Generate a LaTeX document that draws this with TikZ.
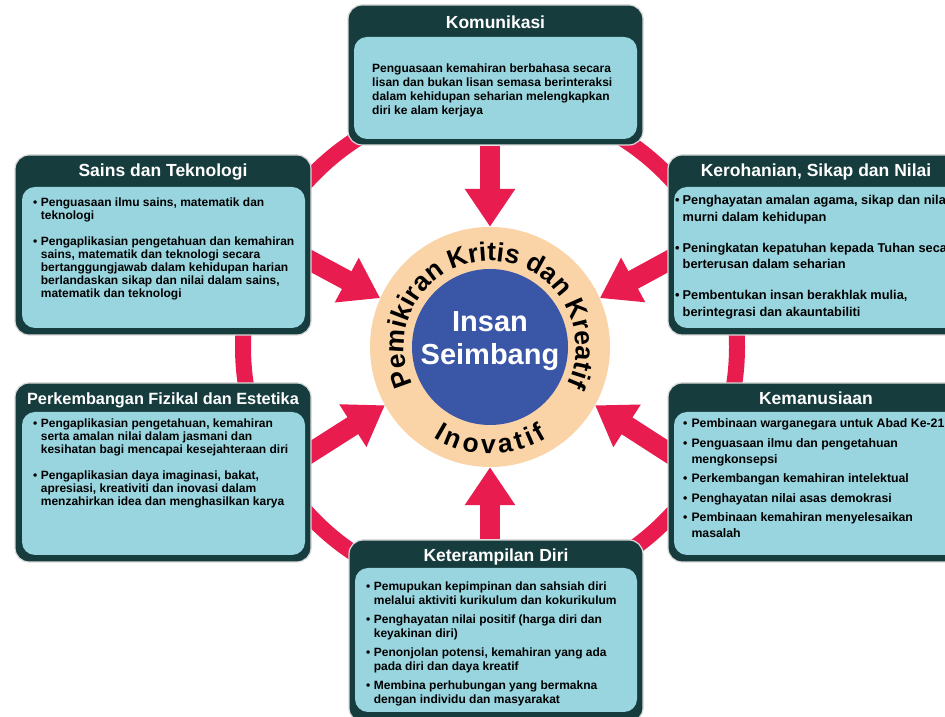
\documentclass[tikz,border=0pt]{standalone}
\usepackage{fontspec}
\setmainfont{Liberation Sans}
\usetikzlibrary{arrows.meta,decorations.text,backgrounds}

\definecolor{boxdark}{RGB}{22,60,62}
\definecolor{boxlight}{RGB}{152,213,223}
\definecolor{ringred}{RGB}{232,28,79}
\definecolor{peach}{RGB}{250,212,166}
\definecolor{coreblue}{RGB}{58,86,166}

\newcommand{\bul}{\textbullet}

\tikzset{
  outerbox/.style={fill=boxdark, draw=black!15, line width=1.2pt, rounded corners=14pt, inner sep=0pt},
  innerbox/.style={fill=boxlight, rounded corners=13pt, inner sep=0pt},
  boxtitle/.style={text=white, inner sep=0pt, anchor=base, font=\bfseries\fontsize{17.5}{20}\selectfont},
  boxtext/.style={inner sep=0pt, anchor=base west},
  toward/.style={draw=ringred, line width=20pt, -{Triangle[width=48pt,length=38pt]}},
}

\begin{document}
\begin{tikzpicture}[x=1pt,y=1pt]
  \useasboundingbox (0,0) rectangle (945,717);
  \clip (0,0) rectangle (945,717);

  % centre
  \node[circle, fill=peach, minimum size=240pt, inner sep=0pt] (disc) at (490,370) {};
  \node[circle, fill=coreblue, minimum size=156pt, inner sep=0pt] (insan) at (disc.center) {};
  \node[text=white, align=center, font=\bfseries\fontsize{29}{33}\selectfont] (insanText)
    at ([yshift=6pt]insan.center) {Insan\\Seimbang};
  \path[decorate, decoration={text along path, text align=center,
      text={|\bfseries\fontsize{26.5}{26.5}\selectfont|Pemikiran Kritis dan Kreatif}}]
    (disc.center) ++(215:86) arc[start angle=215, end angle=-35, radius=86];
  \path[decorate, decoration={text along path, text align=fit to path,
      text={|\bfseries\fontsize{26.5}{26.5}\selectfont|Inovatif}}]
    (disc.center) ++(238:107) arc[start angle=238, end angle=302, radius=107];

  % Komunikasi
  \node[outerbox, minimum width=295pt, minimum height=140pt] (komunikasi) at (495.5,642) {};
  \node[innerbox, minimum width=283pt, minimum height=102pt] (komunikasiIn) at (495.5,629) {};
  \node[boxtitle] (komunikasiTitle) at (495.5,688.7) {Komunikasi};
  \node[boxtext, font=\bfseries\fontsize{12}{13.8}\selectfont] (komunikasiText) at (372,644)
    {\begin{tabular}[t]{@{}l@{}}
      Penguasaan kemahiran berbahasa secara\\
      lisan dan bukan lisan semasa berinteraksi\\
      dalam kehidupan seharian melengkapkan\\
      diri ke alam kerjaya
    \end{tabular}};

  % Sains dan Teknologi
  \node[outerbox, minimum width=296pt, minimum height=180pt] (sains) at (163,472) {};
  \node[innerbox, minimum width=283pt, minimum height=141pt] (sainsIn) at (163.5,459.5) {};
  \node[boxtitle] (sainsTitle) at (163,540.7) {Sains dan Teknologi};
  \node[boxtext, font=\bfseries\fontsize{12}{13}\selectfont] (sainsText) at (33,510)
    {\begin{tabular}[t]{@{}l@{\hspace{3.5pt}}l@{}}
      \bul & Penguasaan ilmu sains, matematik dan\\
           & teknologi\\[13pt]
      \bul & Pengaplikasian pengetahuan dan kemahiran\\
           & sains, matematik dan teknologi secara\\
           & bertanggungjawab dalam kehidupan harian\\
           & berlandaskan sikap dan nilai dalam sains,\\
           & matematik dan teknologi
    \end{tabular}};

  % Kerohanian, Sikap dan Nilai
  \node[outerbox, minimum width=296pt, minimum height=180pt] (kerohanian) at (816,472) {};
  \node[innerbox, minimum width=284pt, minimum height=141pt] (kerohanianIn) at (816,459.5) {};
  \node[boxtitle] (kerohanianTitle) at (816,540.7) {Kerohanian, Sikap dan Nilai};
  \node[boxtext, font=\bfseries\fontsize{12.8}{16.5}\selectfont] (kerohanianText) at (675,512)
    {\begin{tabular}[t]{@{}l@{\hspace{3pt}}l@{}}
      \bul & Penghayatan amalan agama, sikap dan nilai\\
           & murni dalam kehidupan\\[14.5pt]
      \bul & Peningkatan kepatuhan kepada Tuhan secara\\
           & berterusan dalam seharian\\[14.5pt]
      \bul & Pembentukan insan berakhlak mulia,\\
           & berintegrasi dan akauntabiliti
    \end{tabular}};

  % Perkembangan Fizikal dan Estetika
  \node[outerbox, minimum width=296pt, minimum height=179pt] (fizikal) at (163,244.5) {};
  \node[innerbox, minimum width=283pt, minimum height=143pt] (fizikalIn) at (163.5,233.5) {};
  \node[boxtitle, font=\bfseries\fontsize{16.3}{20}\selectfont] (fizikalTitle) at (163,312.7)
    {Perkembangan Fizikal dan Estetika};
  \node[boxtext, font=\bfseries\fontsize{12}{13}\selectfont] (fizikalText) at (33,289)
    {\begin{tabular}[t]{@{}l@{\hspace{3.5pt}}l@{}}
      \bul & Pengaplikasian pengetahuan, kemahiran\\
           & serta amalan nilai dalam jasmani dan\\
           & kesihatan bagi mencapai kesejahteraan diri\\[13pt]
      \bul & Pengaplikasian daya imaginasi, bakat,\\
           & apresiasi, kreativiti dan inovasi dalam\\
           & menzahirkan idea dan menghasilkan karya
    \end{tabular}};

  % Kemanusiaan
  \node[outerbox, minimum width=296pt, minimum height=179pt] (kemanusiaan) at (816,244.5) {};
  \node[innerbox, minimum width=284pt, minimum height=143pt] (kemanusiaanIn) at (816,233.5) {};
  \node[boxtitle] (kemanusiaanTitle) at (816,312.7) {Kemanusiaan};
  \node[boxtext, font=\bfseries\fontsize{12.3}{16}\selectfont] (kemanusiaanText) at (683,289)
    {\begin{tabular}[t]{@{}l@{\hspace{4pt}}l@{}}
      \bul & Pembinaan warganegara untuk Abad Ke-21\\[3.5pt]
      \bul & Penguasaan ilmu dan pengetahuan\\
           & mengkonsepsi\\[3.5pt]
      \bul & Perkembangan kemahiran intelektual\\[3.5pt]
      \bul & Penghayatan nilai asas demokrasi\\[3.5pt]
      \bul & Pembinaan kemahiran menyelesaikan\\
           & masalah
    \end{tabular}};

  % Keterampilan Diri
  \node[outerbox, minimum width=294pt, minimum height=182pt] (diri) at (496,86) {};
  \node[innerbox, minimum width=282pt, minimum height=144pt] (diriIn) at (496,77) {};
  \node[boxtitle] (diriTitle) at (496,155.7) {Keterampilan Diri};
  \node[boxtext, font=\bfseries\fontsize{12}{14}\selectfont] (diriText) at (366,126)
    {\begin{tabular}[t]{@{}l@{\hspace{3.5pt}}l@{}}
      \bul & Pemupukan kepimpinan dan sahsiah diri\\
           & melalui aktiviti kurikulum dan kokurikulum\\[5pt]
      \bul & Penghayatan nilai positif (harga diri dan\\
           & keyakinan diri)\\[5pt]
      \bul & Penonjolan potensi, kemahiran yang ada\\
           & pada diri dan daya kreatif\\[5pt]
      \bul & Membina perhubungan yang bermakna\\
           & dengan individu dan masyarakat
    \end{tabular}};

  % ring and arrows behind the boxes
  \begin{scope}[on background layer]
    \fill[white] (0,0) rectangle (945,717);
    \draw[ringred, line width=16pt] (disc.center) circle[radius=247];
    \draw[toward] (komunikasi.south -| disc.center) -- (disc.north);
    \draw[toward] (diri.north -| disc.center) -- (disc.south);
    \draw[toward] ([xshift=-8pt,yshift=-12pt]sains.east) -- (disc.156);
    \draw[toward] ([xshift=8pt,yshift=-12pt]kerohanian.west) -- (disc.24);
    \draw[toward] ([xshift=-8pt,yshift=15.5pt]fizikal.east) -- (disc.209);
    \draw[toward] ([xshift=8pt,yshift=15.5pt]kemanusiaan.west) -- (disc.331);
  \end{scope}
\end{tikzpicture}
\end{document}
